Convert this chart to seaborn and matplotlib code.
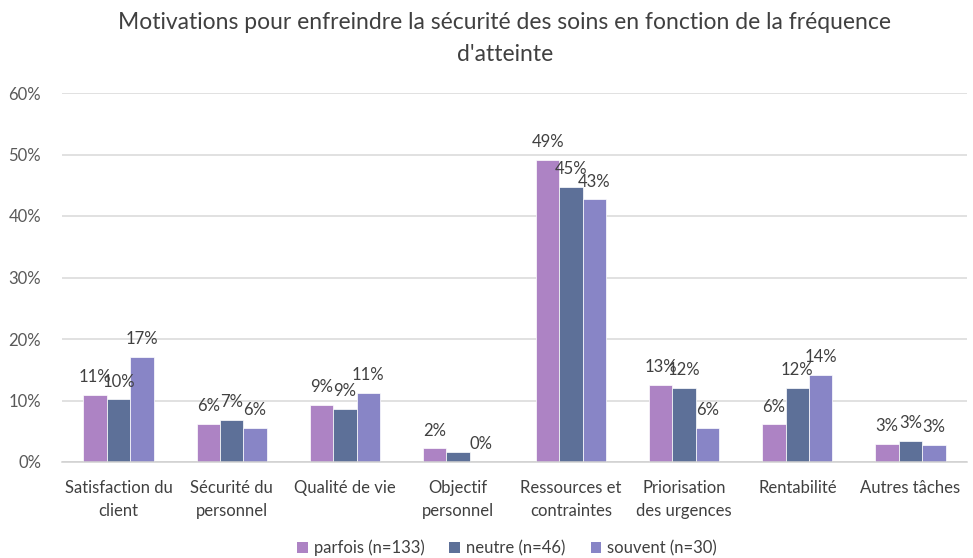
import matplotlib
matplotlib.use("Agg")
import matplotlib.pyplot as plt
import seaborn as sns
import pandas as pd
from matplotlib.patches import Patch

categories = [
    "Satisfaction du\nclient", "Sécurité du\npersonnel", "Qualité de vie",
    "Objectif\npersonnel", "Ressources et\ncontraintes", "Priorisation\ndes urgences",
    "Rentabilité", "Autres tâches",
]
series_names = ["parfois (n=133)", "neutre (n=46)", "souvent (n=30)"]
parfois = [10.9, 6.2, 9.3, 2.2, 49.1, 12.6, 6.1, 3.0]
neutre = [10.2, 6.9, 8.6, 1.6, 44.7, 12.0, 12.0, 3.4]
souvent = [17.1, 5.6, 11.3, 0.0, 42.7, 5.6, 14.2, 2.8]
yticks = [0, 10, 20, 30, 40, 50, 60]
colors = ["#AD83C4", "#5D7098", "#8885C6"]
title = "Motivations pour enfreindre la sécurité des soins en fonction de la fréquence\nd'atteinte"

df = pd.DataFrame({
    "categorie": categories * 3,
    "serie": [s for s in series_names for _ in categories],
    "valeur": parfois + neutre + souvent,
})

sns.set_theme(style="white")
plt.rcParams["font.family"] = ["Lato", "DejaVu Sans"]

fig = plt.figure(figsize=(9.73, 5.58), dpi=100)
ax = fig.add_axes([62 / 973, 1 - 462 / 558, (967 - 62) / 973, (462 - 93) / 558])

sns.barplot(data=df, x="categorie", y="valeur", hue="serie", order=categories,
            hue_order=series_names, palette=colors, width=0.62, saturation=1,
            edgecolor="white", linewidth=0.5, legend=False, ax=ax)

ax.set_ylim(0, 60)
ax.set_yticks(yticks)
ax.set_yticklabels([f"{t}%" for t in yticks], color="#595959", fontsize=12)
ax.set_xlabel("")
ax.set_ylabel("")
ax.tick_params(axis="x", length=0, pad=13, labelsize=12, labelcolor="#404040")
ax.tick_params(axis="y", length=0, pad=15)
for lbl in ax.get_xticklabels():
    lbl.set_linespacing(1.5)
ax.yaxis.grid(True, color="#D9D9D9", linewidth=1.1)
ax.set_axisbelow(True)
for side in ["top", "right", "left"]:
    ax.spines[side].set_visible(False)
ax.spines["bottom"].set_color("#D0D0D0")
ax.spines["bottom"].set_linewidth(1.1)

series_vals = [parfois, neutre, souvent]
for container, vals, name in zip(ax.containers, series_vals, series_names):
    labels = [f"{v:.0f}%" for v in vals]
    if name.startswith("neutre"):
        # the neutral objective bar carries no label
        labels[3] = ""
    ax.bar_label(container, labels=labels, padding=7, fontsize=12, color="#404040")

fig.text(505 / 973, 1 - 38.5 / 558, title, ha="center", va="center", fontsize=16.5,
         color="#404040", linespacing=1.7)

handles = [Patch(facecolor=c, edgecolor="none") for c in colors]
fig.legend(handles, series_names, loc="center", bbox_to_anchor=(507 / 973, 1 - 548 / 558),
           ncol=3, frameon=False, fontsize=12, handlelength=0.65, handleheight=0.65,
           handletextpad=0.35, columnspacing=1.5, labelcolor="#404040")

fig.savefig("out.png", dpi=100)
